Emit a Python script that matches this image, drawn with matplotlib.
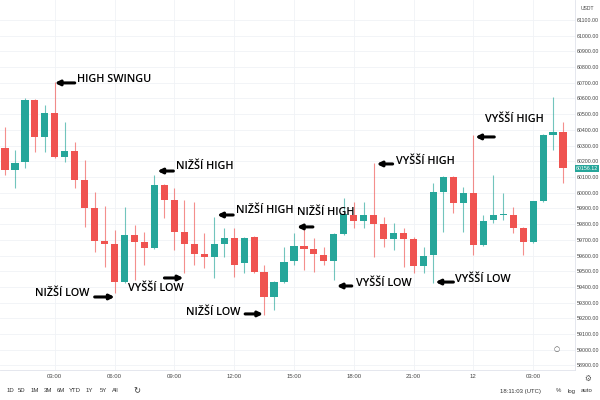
import matplotlib
matplotlib.use("Agg")
import matplotlib.pyplot as plt
import matplotlib.transforms as mtransforms
import numpy as np
import pandas as pd

# BTC/USDT, 30 minute candles
opens = [60285, 60145, 60196, 60590, 60355, 60508, 60227, 60266, 60081, 59903,
         59692, 59674, 59431, 59731, 59687, 59648, 60049, 59954, 59750, 59674,
         59610, 59591, 59674, 59712, 59552, 59718, 59495, 59336, 59431, 59565,
         59661, 59642, 59603, 59565, 59737, 59858, 59820, 59858, 59801, 59705,
         59743, 59705, 59533, 59603, 60005, 60100, 59935, 59998, 59667, 59826,
         59858, 59858, 59775, 59687, 59947, 60368, 60387]
highs = [60419, 60272, 60600, 60595, 60559, 60705, 60450, 60323, 60208, 60005,
         59915, 59763, 59909, 59794, 59750, 60113, 60055, 60030, 59954, 59941,
         59743, 59845, 59775, 59775, 59720, 59725, 59540, 59440, 59654, 59743,
         59782, 59712, 59654, 59745, 59966, 59941, 59941, 60189, 59845, 59807,
         59775, 59718, 59654, 60062, 60105, 60105, 60036, 60368, 59858, 60113,
         59998, 59909, 59780, 59950, 60375, 60610, 60450]
lows = [60113, 60030, 60157, 60259, 60259, 60220, 60196, 60030, 59782, 59622,
        59527, 59361, 59425, 59444, 59540, 59640, 59839, 59635, 59489, 59540,
        59521, 59457, 59591, 59463, 59489, 59490, 59221, 59253, 59425, 59540,
        59508, 59495, 59540, 59444, 59730, 59775, 59775, 59591, 59654, 59635,
        59527, 59489, 59489, 59425, 59750, 59871, 59750, 59603, 59660, 59807,
        59826, 59743, 59603, 59680, 59940, 60272, 60062]
closes = [60145, 60189, 60590, 60355, 60508, 60227, 60266, 60081, 59903, 59692,
          59674, 59431, 59731, 59687, 59648, 60049, 59954, 59750, 59674, 59610,
          59591, 59674, 59712, 59540, 59712, 59495, 59336, 59431, 59559, 59661,
          59642, 59610, 59565, 59737, 59864, 59820, 59858, 59801, 59705, 59743,
          59705, 59533, 59597, 60005, 60100, 59935, 59998, 59667, 59820, 59858,
          59860, 59775, 59687, 59947, 60368, 60387, 60156.12]
times = pd.date_range("2021-11-11 00:30", periods=len(opens), freq="30min")

price_ticks = list(range(58900, 61101, 100))
ranges = ["1D", "5D", "1M", "3M", "6M", "YTD", "1Y", "5Y", "All"]

UP = "#26a69a"
DOWN = "#ef5350"
AXFONT = "Liberation Sans"

fig = plt.figure(figsize=(6, 4), dpi=100)
ax = fig.add_axes([0, 0.075, 575 / 600, 0.925])

o = np.array(opens, dtype=float)
h = np.array(highs, dtype=float)
l = np.array(lows, dtype=float)
c = np.array(closes, dtype=float)
x = np.arange(len(o))
cols = np.where(c >= o, UP, DOWN)

ax.vlines(x, l, h, colors=cols, lw=0.8, alpha=0.65, zorder=2)
body_low = np.minimum(o, c)
body_h = np.maximum(np.abs(c - o), 9)
ax.bar(x, body_h, bottom=body_low, width=0.72, color=cols, lw=0, zorder=3)

ax.set_xlim(-0.5, 57.2)
ax.set_ylim(58871, 61227)

# time ticks every 3 hours
tick_idx = [i for i, t in enumerate(times) if t.minute == 0 and t.hour % 3 == 0]
tick_lab = [str(times[i].day) if times[i].hour == 0 else times[i].strftime("%H:%M")
            for i in tick_idx]
ax.set_xticks(tick_idx)
ax.set_xticklabels(tick_lab, fontfamily=AXFONT)
ax.yaxis.tick_right()
ax.set_yticks(price_ticks)
ax.set_yticklabels([f"{p:.2f}" for p in price_ticks], fontfamily=AXFONT)
ax.tick_params(axis="both", length=0, labelsize=3.8, labelcolor="#444444")
ax.tick_params(axis="x", pad=3, labelsize=4.3)
ax.tick_params(axis="y", pad=1.5)
ax.grid(True, color="#f0f2f6", lw=0.6, zorder=0)
for s in ["top", "left"]:
    ax.spines[s].set_visible(False)
for s in ["right", "bottom"]:
    ax.spines[s].set_color("#e0e3eb")
    ax.spines[s].set_linewidth(0.6)

# last price label
trans = mtransforms.blended_transform_factory(ax.transAxes, ax.transData)
ax.text(1.002, c[-1], f"{c[-1]:.2f}", transform=trans, fontsize=3.8, color="white",
        family=AXFONT, ha="left", va="center", clip_on=False,
        bbox=dict(boxstyle="square,pad=0.2", fc=UP, ec="none"))

# swing annotations
tfont = dict(family=["Open Sans", "DejaVu Sans"], fontsize=7.8, fontweight="semibold",
             color="black", va="center", zorder=6)
aprops = dict(arrowstyle="-|>", color="black", lw=2.2, mutation_scale=7,
              shrinkA=0, shrinkB=0)
notes = [
    ("HIGH SWINGU", 7.25, 60718, "left", (7.0, 60699), (5.0, 60699)),
    ("NIŽŠÍ HIGH", 17.2, 60164, "left", (16.9, 60138), (15.3, 60138)),
    ("NIŽŠÍ HIGH", 23.2, 59884, "left", (22.9, 59858), (21.3, 59858)),
    ("NIŽŠÍ HIGH", 29.3, 59871, "left", (30.9, 59782), (29.3, 59782)),
    ("VYŠŠÍ HIGH", 39.2, 60196, "left", (38.9, 60183), (37.3, 60183)),
    ("VYŠŠÍ HIGH", 48.2, 60463, "left", (49.1, 60355), (47.2, 60355)),
    ("NIŽŠÍ LOW", 8.5, 59361, "right", (9.0, 59336), (11.0, 59336)),
    ("VYŠŠÍ LOW", 12.3, 59393, "left", (16.0, 59457), (17.9, 59457)),
    ("NIŽŠÍ LOW", 23.6, 59240, "right", (24.1, 59228), (25.9, 59228)),
    ("VYŠŠÍ LOW", 35.2, 59419, "left", (34.8, 59406), (33.3, 59406)),
    ("VYŠŠÍ LOW", 45.2, 59450, "left", (45.0, 59431), (43.2, 59431)),
]
for txt, tx, ty, ha, tail, head in notes:
    ax.text(tx, ty, txt, ha=ha, **tfont)
    ax.annotate("", xy=head, xytext=tail, arrowprops=aprops, zorder=6)

# toolbar / chrome
small = dict(fontsize=4.3, color="#333333", va="center", family=AXFONT)
range_x = [10, 22, 35, 48, 61, 75, 89, 103, 115]
for lab, px in zip(ranges, range_x):
    fig.text(px / 600, 9 / 400, lab, ha="center", **small)
fig.text(137 / 600, 9 / 400, "↻", ha="center", fontsize=6, color="#333333", va="center")
fig.text(520 / 600, 9 / 400, "18:11:03 (UTC)", ha="center", **small)
fig.text(558 / 600, 9 / 400, "%", ha="center", **small)
fig.text(572 / 600, 9 / 400, "log", ha="center", **small)
fig.text(587 / 600, 9 / 400, "auto", ha="center", **small)
fig.text(587 / 600, 1 - 8 / 400, "USDT", ha="center", fontsize=3.6, color="#444444",
         va="center", family=AXFONT)
fig.text(557 / 600, 1 - 349 / 400, "○", ha="center", fontsize=5, color="#555555", va="center")
fig.text(588 / 600, 1 - 378 / 400, "⚙", ha="center", fontsize=5.5, color="#555555", va="center")

fig.savefig("out.png", dpi=100)
